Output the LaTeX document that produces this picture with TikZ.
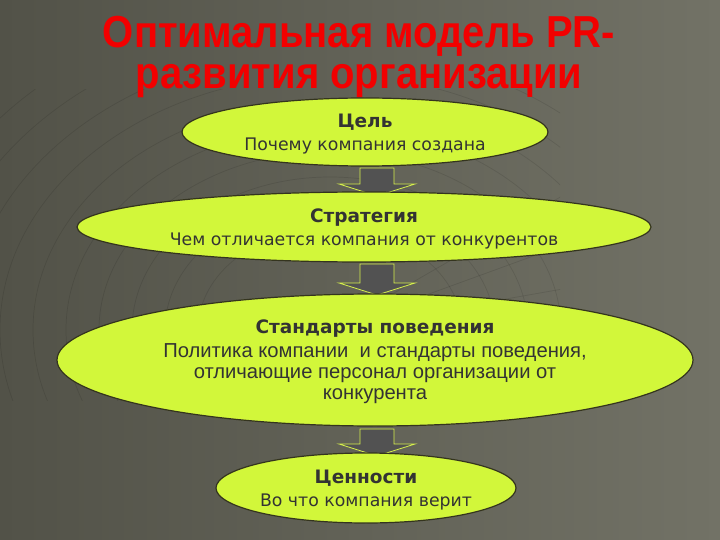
\documentclass[tikz,border=0pt]{standalone}
\usepackage{fontspec}
\setmainfont{DejaVu Sans}
\newfontfamily\titlefont{Liberation Sans}
\newfontfamily\narrowfont{Liberation Sans}
\usetikzlibrary{shapes.geometric}
\definecolor{bgL}{HTML}{525248}
\definecolor{bgR}{HTML}{727266}
\definecolor{ellfill}{HTML}{D2F73A}
\definecolor{elldraw}{HTML}{34341E}
\definecolor{txt}{HTML}{333333}
\definecolor{ttl}{HTML}{F20000}
\definecolor{arrfill}{HTML}{525252}
\definecolor{arrline}{HTML}{D6F04C}
\newcommand{\ellhead}[1]{{\rmfamily\bfseries\fontsize{18.5}{23}\selectfont #1}}
\tikzset{
  ell/.style={ellipse, draw=elldraw, line width=1.2pt, fill=ellfill,
    inner sep=0pt, align=center, text=txt, text depth=0pt,
    font=\fontsize{17.3}{23}\selectfont},
  ttlstyle/.style={text=ttl, inner sep=0pt, anchor=base,
    font=\titlefont\bfseries\fontsize{40}{44}\selectfont},
  blockarrow/.style={fill=arrfill, draw=arrline, line width=0.8pt},
  gridline/.style={black, opacity=0.10, line width=0.7pt}
}
\begin{document}
\begin{tikzpicture}[x=1pt,y=-1pt]
\useasboundingbox (0,0) rectangle (720,540);
\shade[left color=bgL, right color=bgR] (0,0) rectangle (720,540);
% faint warped grid
\begin{scope}
\clip (0,90) rectangle (560,400);
\foreach \r in {120,150,...,520}
  \draw[gridline] (330,330) circle [x radius=\r*1.1, y radius=\r*0.85];
\foreach \a in {150,160,...,280}
  \draw[gridline] (330,330) -- ++(\a:-560);
\end{scope}
% title
\node[ttlstyle] (title1) at (359,48) {\scalebox{1}[1.12]{Оптимальная модель PR-}};
\node[ttlstyle] (title2) at (359,89) {\scalebox{1}[1.12]{развития организации}};
% block arrows (drawn below the ellipses)
\coordinate (a1) at (377,168);
\coordinate (a2) at (377,264);
\coordinate (a3) at (377,429);
\foreach \c/\h in {a1/16, a2/19, a3/15}{
  \draw[blockarrow] ([xshift=-17pt]\c) -- ([xshift=17pt]\c) -- ([xshift=17pt,yshift=-\h pt]\c)
    -- ([xshift=38pt,yshift=-\h pt]\c) -- ([yshift=-\h pt-12pt]\c)
    -- ([xshift=-38pt,yshift=-\h pt]\c) -- ([xshift=-17pt,yshift=-\h pt]\c) -- cycle;
}
% ellipses
\node[ell, minimum width=366pt, minimum height=68pt] (e1) at (365,132)
  {\ellhead{Цель}\\ Почему компания создана};
\node[ell, minimum width=574pt, minimum height=70pt] (e2) at (364,227)
  {\ellhead{Стратегия}\\ Чем отличается компания от конкурентов};
\node[ell, minimum width=636pt, minimum height=132pt,
      font=\narrowfont\fontsize{20.2}{21}\selectfont] (e3) at (375,360)
  {\ellhead{Стандарты поведения}\\[3pt]
   Политика компании \ и стандарты поведения,\\
   отличающие персонал организации от\\
   конкурента};
\node[ell, minimum width=300pt, minimum height=70pt] (e4) at (366,488)
  {\ellhead{Ценности}\\ Во что компания верит};
\end{tikzpicture}
\end{document}
